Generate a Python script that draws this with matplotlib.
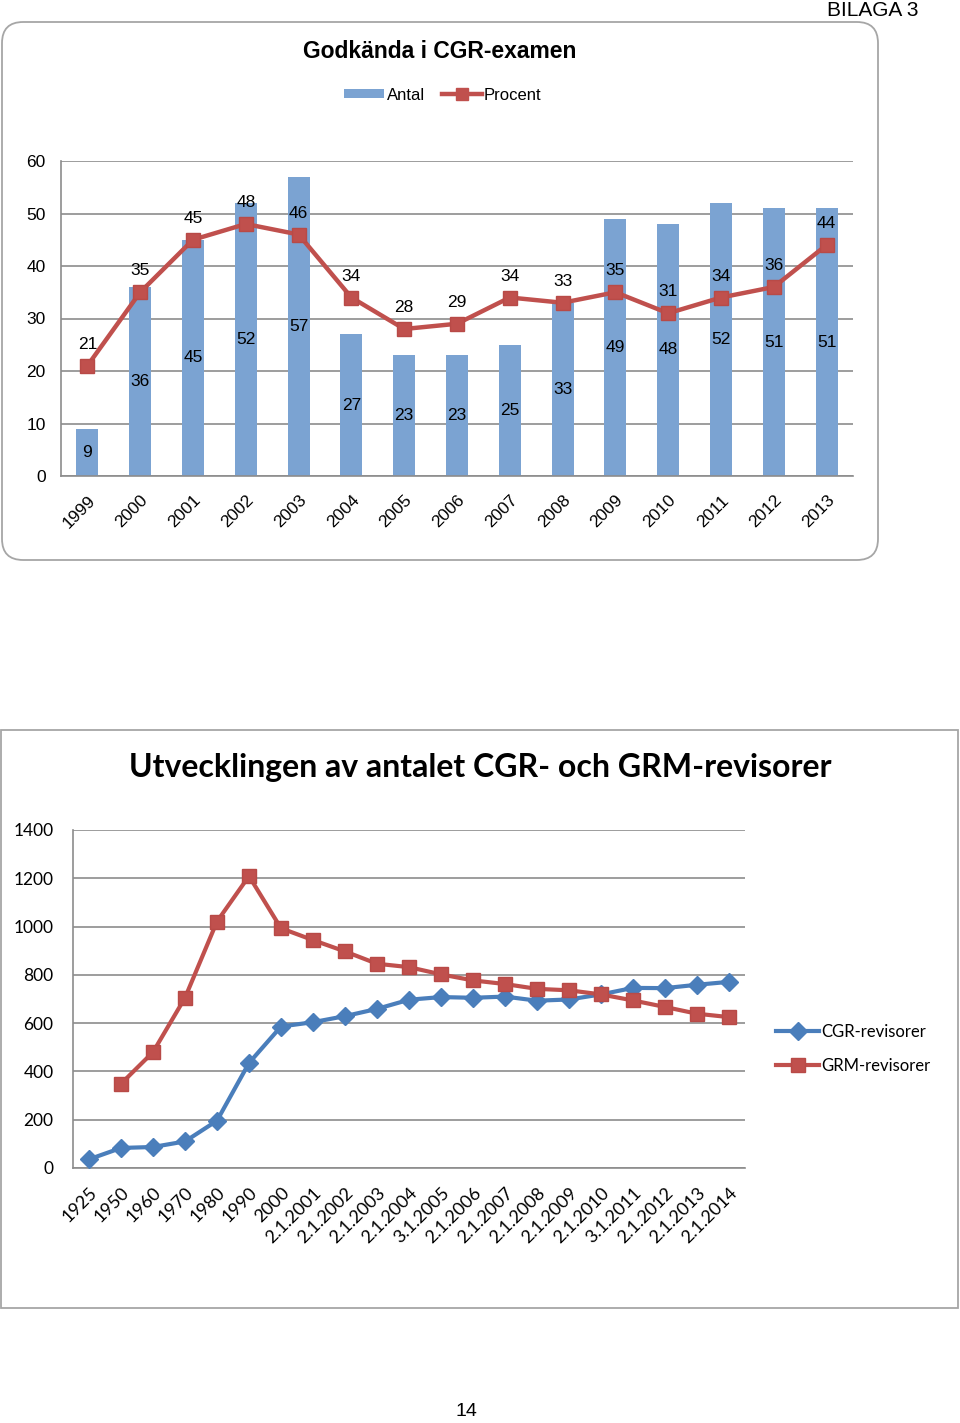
import matplotlib
matplotlib.use("Agg")
import matplotlib.pyplot as plt
from matplotlib.patches import FancyBboxPatch, Rectangle, Patch
from matplotlib.lines import Line2D
import numpy as np

# ---------------- data ----------------
years_top = ["1999", "2000", "2001", "2002", "2003", "2004", "2005", "2006",
             "2007", "2008", "2009", "2010", "2011", "2012", "2013"]
antal = [9, 36, 45, 52, 57, 27, 23, 23, 25, 33, 49, 48, 52, 51, 51]
procent = [21, 35, 45, 48, 46, 34, 28, 29, 34, 33, 35, 31, 34, 36, 44]

dates_bottom = ["1925", "1950", "1960", "1970", "1980", "1990", "2000",
                "2.1.2001", "2.1.2002", "2.1.2003", "2.1.2004", "3.1.2005",
                "2.1.2006", "2.1.2007", "2.1.2008", "2.1.2009", "2.1.2010",
                "3.1.2011", "2.1.2012", "2.1.2013", "2.1.2014"]
cgr = [36, 83, 87, 110, 196, 435, 586, 604, 629, 659, 697, 708, 705, 710,
       693, 698, 719, 746, 745, 759, 771]
grm = [np.nan, 349, 480, 705, 1021, 1209, 993, 944, 897, 846, 832, 802, 777,
       762, 742, 736, 719, 694, 667, 639, 625]

# ---------------- figure ----------------
W, H = 960, 1423
fig = plt.figure(figsize=(W / 100, H / 100), dpi=100)
fig.patch.set_facecolor("white")

ARIAL = "Liberation Sans"
CALIBRI = "Lato"

def fx(px):
    return px / W

def fy(py):
    return 1 - py / H

def axes_px(l, t, r, b):
    a = fig.add_axes([fx(l), fy(b), fx(r) - fx(l), (b - t) / H])
    a.patch.set_alpha(0)
    return a

# Frames
top_box = FancyBboxPatch((fx(2), fy(560)), fx(876), (560 - 22) / H,
                         boxstyle="round,pad=0,rounding_size=0.022",
                         transform=fig.transFigure, facecolor="white",
                         edgecolor="#A6A6A6", lw=1.3, zorder=-1,
                         mutation_aspect=W / H)
fig.patches.append(top_box)
bot_box = Rectangle((fx(1), fy(1308)), fx(957), (1308 - 730) / H,
                    transform=fig.transFigure, facecolor="white",
                    edgecolor="#A6A6A6", lw=1.3, zorder=-1)
fig.patches.append(bot_box)

fig.text(fx(873), fy(11), "BILAGA 3", fontsize=15, family=ARIAL,
         ha="center", va="center")
fig.text(fx(466), fy(1412), "14", fontsize=14, family=ARIAL,
         ha="center", va="center")

GRID = "#8C8C8C"
BAR = "#7BA3D2"
RED = "#C0504D"
BLUE = "#4A7EBB"

# ---------------- top chart ----------------
ax1 = axes_px(61, 161, 853, 476)
x1 = np.arange(len(years_top))
ax1.bar(x1, antal, width=0.42, color=BAR, zorder=2)
ax1.plot(x1, procent, color=RED, lw=3.2, marker="s", ms=10,
         markerfacecolor=RED, markeredgecolor="#B84A47", zorder=3)
for xi, a in zip(x1, antal):
    ax1.text(xi, a / 2, str(a), ha="center", va="center", fontsize=12.5,
             family=ARIAL, zorder=4)
for xi, p in zip(x1, procent):
    ax1.annotate(str(p), (xi, p), xytext=(0, 10), textcoords="offset points",
                 ha="center", va="bottom", fontsize=12.5, family=ARIAL, zorder=4)
ax1.set_xlim(-0.5, len(years_top) - 0.5)
ax1.set_ylim(0, 60)
ax1.set_yticks(range(0, 61, 10))
ax1.set_yticklabels([str(v) for v in range(0, 61, 10)], family=ARIAL,
                    fontsize=12.5)
ax1.set_xticks(x1)
ax1.set_xticklabels(years_top, rotation=45, ha="right", va="top",
                    rotation_mode="anchor", family=ARIAL, fontsize=12.5)
ax1.tick_params(axis="both", length=0)
ax1.tick_params(axis="y", pad=11)
ax1.tick_params(axis="x", pad=12)
ax1.grid(axis="y", color=GRID, lw=1.2, zorder=0)
ax1.set_axisbelow(True)
for s in ["top", "right"]:
    ax1.spines[s].set_visible(False)
ax1.spines["left"].set_color(GRID)
ax1.spines["bottom"].set_color(GRID)
ax1.spines["left"].set_linewidth(1.2)
ax1.spines["bottom"].set_linewidth(1.2)

fig.text(fx(440), fy(51), "Godkända i CGR-examen", fontsize=16.5,
         fontweight="bold", family=ARIAL, ha="center", va="center")
h1 = [Patch(facecolor=BAR, edgecolor="none"),
      Line2D([0], [0], color=RED, lw=3.2, marker="s", ms=9)]
fig.legend(h1, ["Antal", "Procent"], loc="center",
           bbox_to_anchor=(fx(443), fy(95)), ncol=2, frameon=False,
           prop={"family": ARIAL, "size": 12}, handlelength=2.4,
           handleheight=0.5, handletextpad=0.15, columnspacing=1.0)

# ---------------- bottom chart ----------------
ax2 = axes_px(73, 830, 745, 1168)
x2 = np.arange(len(dates_bottom))
ax2.plot(x2, cgr, color=BLUE, lw=3, marker="D", ms=9, zorder=3,
         label="CGR-revisorer")
ax2.plot(x2, grm, color=RED, lw=3, marker="s", ms=10, zorder=3,
         markeredgecolor="#B84A47", label="GRM-revisorer")
ax2.set_xlim(-0.5, len(dates_bottom) - 0.5)
ax2.set_ylim(0, 1400)
ax2.set_yticks(range(0, 1401, 200))
ax2.set_yticklabels([str(v) for v in range(0, 1401, 200)], family=CALIBRI,
                    fontsize=12.5)
ax2.set_xticks(x2)
ax2.set_xticklabels(dates_bottom, rotation=45, ha="right", va="top",
                    rotation_mode="anchor", family=CALIBRI, fontsize=13)
ax2.tick_params(axis="both", length=0)
ax2.tick_params(axis="y", pad=14)
ax2.tick_params(axis="x", pad=12)
ax2.grid(axis="y", color=GRID, lw=1.2, zorder=0)
ax2.set_axisbelow(True)
for s in ["top", "right"]:
    ax2.spines[s].set_visible(False)
ax2.spines["left"].set_color(GRID)
ax2.spines["bottom"].set_color(GRID)
ax2.spines["left"].set_linewidth(1.2)
ax2.spines["bottom"].set_linewidth(1.2)

fig.text(fx(480), fy(768), "Utvecklingen av antalet CGR- och GRM-revisorer",
         fontsize=23, fontweight="bold", family=CALIBRI, ha="center",
         va="center")
fig.legend(loc="center left", bbox_to_anchor=(fx(761), fy(1049)),
           frameon=False, prop={"family": CALIBRI, "size": 12},
           handlelength=2.6, handletextpad=0.1, labelspacing=1.1)

fig.savefig("out.png", dpi=100, facecolor="white")
